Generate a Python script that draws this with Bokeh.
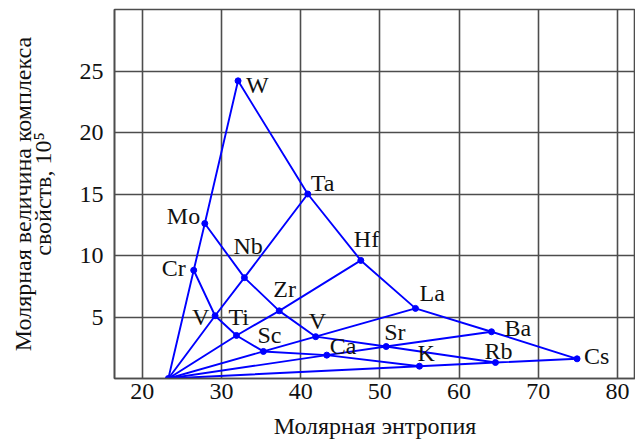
from bokeh.plotting import figure
from bokeh.models import FixedTicker, LinearAxis, ColumnDataSource
from bokeh.embed import file_html
from bokeh.resources import INLINE
from bokeh.core.properties import value

# ---------------- data ----------------
origin_x = 23.3
origin_y = 0.0

# period 4 (groups 1..6)
labels_p4 = ["K", "Ca", "Sc", "Ti", "V", "Cr"]
x_p4 = [55.0, 43.3, 35.3, 31.9, 29.2, 26.5]
y_p4 = [1.0, 1.9, 2.2, 3.5, 5.1, 8.8]

# period 5
labels_p5 = ["Rb", "Sr", "V", "Zr", "Nb", "Mo"]
x_p5 = [64.6, 50.8, 41.9, 37.3, 32.9, 27.9]
y_p5 = [1.3, 2.6, 3.4, 5.5, 8.2, 12.6]

# period 6
labels_p6 = ["Cs", "Ba", "La", "Hf", "Ta", "W"]
x_p6 = [74.9, 64.1, 54.5, 47.6, 40.9, 32.1]
y_p6 = [1.6, 3.8, 5.7, 9.6, 15.0, 24.2]

x_ticks = [20, 30, 40, 50, 60, 70, 80]
y_ticks = [5, 10, 15, 20, 25]
x_title = "Молярная энтропия"
y_title_1 = "Молярная величина комплекса"
y_title_2 = "свойств, 10⁵"

# ---------------- styles ----------------
FONT = "Liberation Serif"
BLUE = "#0000ff"
GRID = "#4d4d4d"
TXT = "#111111"
FS = "24px"

# label offsets in screen pixels (dx, dy) per label, same order as data
offs_p4 = [(-2, -13), (3, -9), (-6, -16), (-8, -18), (-23, 1), (-32, -2)]
offs_p5 = [(-11, -12), (-2, -15), (-7, -16), (-6, -22), (-11, -32), (-38, -8)]
offs_p6 = [(7, -3), (13, -4), (4, -15), (-7, -21), (3, -11), (8, 4)]

p = figure(width=635, height=441, x_range=(16.5, 82.28), y_range=(0, 30),
           output_backend="svg", toolbar_location=None, title=None,
           min_border_left=114, min_border_right=0, min_border_top=9,
           min_border_bottom=63)

p.background_fill_color = "white"
p.border_fill_color = "white"
p.outline_line_color = GRID
p.outline_line_width = 1.6

p.xaxis.ticker = FixedTicker(ticks=x_ticks)
p.yaxis.ticker = FixedTicker(ticks=y_ticks)
for ax in (p.xaxis[0], p.yaxis[0]):
    ax.major_tick_line_color = None
    ax.minor_tick_line_color = None
    ax.major_tick_out = 0
    ax.major_tick_in = 0
    ax.axis_line_color = GRID
    ax.axis_line_width = 1.6
    ax.major_label_text_font = FONT
    ax.major_label_text_font_size = FS
    ax.major_label_text_color = TXT
    ax.axis_label_text_font = FONT
    ax.axis_label_text_font_size = FS
    ax.axis_label_text_font_style = "normal"
    ax.axis_label_text_color = TXT
p.xaxis.major_label_standoff = 5
p.yaxis.major_label_standoff = 11
p.xaxis.axis_label = x_title
p.xaxis.axis_label_standoff = 11
p.yaxis.axis_label = y_title_2
p.yaxis.axis_label_standoff = 21

# outer axis carrying the first line of the y title
outer = LinearAxis(ticker=FixedTicker(ticks=[]), axis_line_color=None,
                   major_tick_line_color=None, minor_tick_line_color=None,
                   major_label_standoff=0, major_tick_out=0, major_tick_in=0,
                   axis_label=y_title_1, axis_label_standoff=-9,
                   axis_label_text_font=FONT, axis_label_text_font_size=FS,
                   axis_label_text_font_style="normal",
                   axis_label_text_color=TXT)
p.add_layout(outer, "left")

p.xgrid.ticker = FixedTicker(ticks=x_ticks)
p.ygrid.ticker = FixedTicker(ticks=y_ticks)
for g in (p.xgrid[0], p.ygrid[0]):
    g.grid_line_color = GRID
    g.grid_line_width = 1.6

# rays from the common origin through each group
for i in range(6):
    p.line([origin_x, x_p4[i], x_p5[i], x_p6[i]],
           [origin_y, y_p4[i], y_p5[i], y_p6[i]],
           line_color=BLUE, line_width=1.9)

# period lines
for xs, ys in ((x_p4, y_p4), (x_p5, y_p5), (x_p6, y_p6)):
    p.line(xs, ys, line_color=BLUE, line_width=1.9)

# points
all_x = [origin_x] + x_p4 + x_p5 + x_p6
all_y = [origin_y] + y_p4 + y_p5 + y_p6
p.scatter(all_x, all_y, size=6, fill_color=BLUE, line_color=BLUE)

# element labels
lab = labels_p4 + labels_p5 + labels_p6
offs = offs_p4 + offs_p5 + offs_p6
src = ColumnDataSource(dict(
    x=x_p4 + x_p5 + x_p6, y=y_p4 + y_p5 + y_p6, t=lab,
    dx=[o[0] for o in offs], dy=[o[1] for o in offs]))
p.text("x", "y", text="t", source=src, x_offset="dx", y_offset="dy",
       text_font=value(FONT), text_font_size=FS, text_color=TXT,
       text_align="left", text_baseline="middle")

open("out.html", "w").write(file_html(p, INLINE))
